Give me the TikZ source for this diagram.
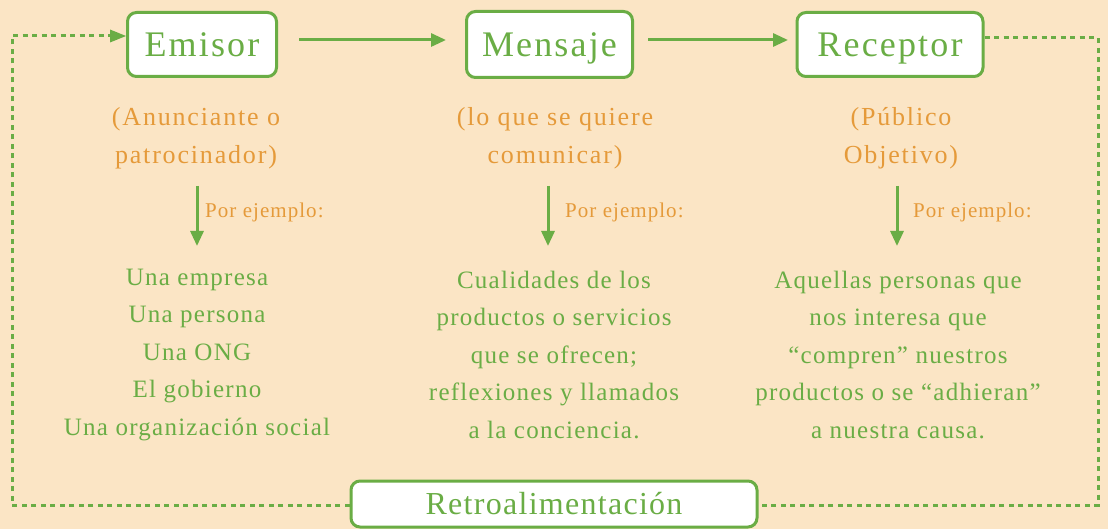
\documentclass[tikz,border=0pt]{standalone}
\usepackage{fontspec}
\setmainfont{Liberation Serif}
\usetikzlibrary{arrows.meta}
\definecolor{bg}{HTML}{FBE5C5}
\definecolor{gr}{HTML}{6AAD45}
\definecolor{og}{HTML}{E59A3A}
\newfontfamily\spaced[LetterSpace=5]{Liberation Serif}
\newfontfamily\spacedor[LetterSpace=7]{Liberation Serif}
\newfontfamily\spacedrt[LetterSpace=4]{Liberation Serif}
\newfontfamily\spacedbox[LetterSpace=6]{Liberation Serif}
\tikzset{
  x=1pt,y=-1pt,
  mainbox/.style={draw=gr,fill=white,line width=3pt,rounded corners=9pt,
    text=gr,font=\spacedbox\fontsize{36}{40}\selectfont,inner sep=0pt,
    text height=32pt,text depth=8pt},
  orangelbl/.style={text=og,align=center,font=\spacedor\fontsize{26}{38}\selectfont},
  greenlbl/.style={text=gr,align=center,font=\spaced\fontsize{25}{37.5}\selectfont},
  ejlbl/.style={text=og,anchor=west,inner sep=0pt,font=\spaced\fontsize{21}{24}\selectfont},
  flow/.style={draw=gr,line width=3pt,-{Triangle[width=13pt,length=15pt]}},
  fb/.style={draw=gr,line width=3pt,dash pattern=on 5pt off 4.5pt},
}
\begin{document}
\begin{tikzpicture}
\useasboundingbox (0,0) rectangle (1108,529);
\fill[bg] (0,0) rectangle (1108,529);

\node[mainbox,minimum width=149pt,minimum height=64pt] (emisor) at (202,44.5) {Emisor};
\node[mainbox,minimum width=166pt,minimum height=66pt] (mensaje) at (549.5,44.5) {Mensaje};
\node[mainbox,minimum width=186pt,minimum height=64pt] (receptor) at (890,44.5) {Receptor};
\node[mainbox,minimum width=406pt,minimum height=46pt,text height=28pt,text depth=7pt,
  font=\spacedrt\fontsize{32}{36}\selectfont] (retro) at (554,504) {Retroalimentación};

\coordinate (a1s) at (299,40); \coordinate (a1e) at (446,40);
\coordinate (a2s) at (648,40); \coordinate (a2e) at (788,40);
\draw[flow] (a1s) -- (a1e);
\draw[flow] (a2s) -- (a2e);

\node[orangelbl] (o1) at (196,138) {(Anunciante o\\patrocinador)};
\node[orangelbl] (o2) at (555,138) {(lo que se quiere\\comunicar)};
\node[orangelbl] (o3) at (901,138) {(Público\\Objetivo)};

\coordinate (d1s) at (197,186); \coordinate (d1e) at (197,246);
\coordinate (d2s) at (548,186); \coordinate (d2e) at (548,246);
\coordinate (d3s) at (897,186); \coordinate (d3e) at (897,246);
\draw[flow] (d1s) -- (d1e);
\draw[flow] (d2s) -- (d2e);
\draw[flow] (d3s) -- (d3e);
\node[ejlbl] (p1) at (205,212) {Por ejemplo:};
\node[ejlbl] (p2) at (565,212) {Por ejemplo:};
\node[ejlbl] (p3) at (913,212) {Por ejemplo:};

\node[greenlbl] (g1) at (197,355) {Una empresa\\Una persona\\Una ONG\\El gobierno\\Una organización social};
\node[greenlbl] (g2) at (554,355) {Cualidades de los\\productos o servicios\\que se ofrecen;\\reflexiones y llamados\\a la conciencia.};
\node[greenlbl] (g3) at (898,355) {Aquellas personas que\\nos interesa que\\“compren” nuestros\\productos o se “adhieran”\\a nuestra causa.};

\coordinate (bl) at (12,505);
\coordinate (tl) at (12,36);
\coordinate (tr) at (1098,38);
\coordinate (br) at (1098,505);
\draw[fb] (retro.west |- bl) -- (bl) -- (tl) -- ([xshift=-16pt]emisor.west |- tl);
\fill[gr] (emisor.west |- tl) -- ++(-16,-6.5) -- ++(0,13) -- cycle;
\draw[fb] (receptor.east |- tr) -- (tr) -- (br) -- (retro.east |- br);
\end{tikzpicture}
\end{document}
